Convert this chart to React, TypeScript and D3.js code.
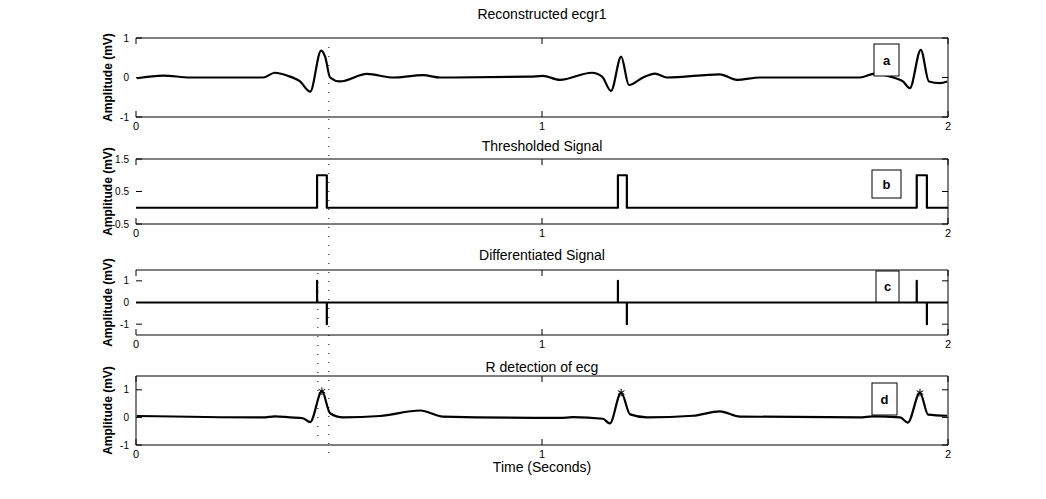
import React from "react";
import * as d3 from "d3";

// reconstructed signal, knots: [time s, mV]
const reconTime = [0.002, 0.067, 0.133, 0.313, 0.342, 0.372, 0.404, 0.429, 0.456, 0.466, 0.478, 0.502, 0.569, 0.633, 0.707, 0.749, 0.97, 1.002, 1.044, 1.123, 1.148, 1.17, 1.195, 1.214, 1.249, 1.278, 1.308, 1.438, 1.48, 1.537, 1.783, 1.82, 1.865, 1.889, 1.906, 1.933, 1.953, 1.98, 1.998];
const reconValue = [-0.02, 0.05, 0.0, 0.0, 0.12, 0.05, -0.1, -0.36, 0.68, 0.52, 0.0, -0.1, 0.09, 0.0, 0.06, 0.0, 0.02, 0.04, -0.06, 0.12, 0.02, -0.34, 0.53, -0.19, 0.0, 0.1, 0.0, 0.08, -0.06, 0.0, 0.0, 0.1, 0.0, -0.1, -0.27, 0.7, -0.1, -0.14, -0.1];

// raw ecg for the R detection panel
const ecgTime = [0.002, 0.313, 0.342, 0.379, 0.411, 0.429, 0.458, 0.478, 0.51, 0.601, 0.7, 0.756, 1.044, 1.076, 1.15, 1.167, 1.195, 1.217, 1.259, 1.372, 1.438, 1.488, 1.783, 1.815, 1.882, 1.901, 1.931, 1.951, 1.998];
const ecgValue = [0.05, 0.0, 0.04, 0.0, -0.03, -0.17, 0.95, 0.15, 0.0, 0.05, 0.25, 0.03, -0.02, 0.01, -0.05, -0.22, 0.9, 0.11, 0.0, 0.06, 0.22, 0.03, 0.0, 0.04, 0.0, -0.19, 0.9, 0.1, 0.06];

// threshold windows (s)
const pulseStart = [0.446, 1.187, 1.923];
const pulseEnd = [0.47, 1.209, 1.948];
const pulseLevel = 1;
const diffLevel = [1, -1];

// detected R peaks
const rTime = [0.458, 1.195, 1.931];
const rValue = [0.95, 0.9, 0.9];

// dotted marker lines (s)
const markTime = [0.475, 0.448];

const xTicks = [0, 1, 2];
const panelTitles = ["Reconstructed ecgr1", "Thresholded Signal", "Differentiated Signal", "R detection of ecg"];
const panelTags = ["a", "b", "c", "d"];
const yDomains = [[-1, 1], [-0.5, 1.5], [-1.5, 1.5], [-1, 1.5]];
const yTicks = [[-1, 0, 1], [-0.5, 0.5, 1.5], [-1, 0, 1], [-1, 0, 1]];

const W = 1046;
const H = 499;
const left = 136;
const right = 948;
const panels = [
  { top: 38, bottom: 117, titleY: 19, tag: [874, 44, 25, 32], leftLine: false },
  { top: 159, bottom: 224, titleY: 151, tag: [872, 170, 29, 28], leftLine: false },
  { top: 270, bottom: 335, titleY: 260, tag: [876, 271, 23, 31], leftLine: false },
  { top: 376, bottom: 445, titleY: 372, tag: [872, 383, 25, 32], leftLine: true },
];
const markSpans = [[47, 457], [273, 437]];

const App = () => {
  const x = d3.scaleLinear().domain([0, 2]).range([left, right]);
  const ys = panels.map((p, i) => d3.scaleLinear().domain(yDomains[i]).range([p.bottom, p.top]));

  const recon = reconTime.map((t, i) => [t, reconValue[i]] as [number, number]);
  const ecg = ecgTime.map((t, i) => [t, ecgValue[i]] as [number, number]);

  const thresh: [number, number][] = [[0, 0]];
  pulseStart.forEach((s, i) => {
    thresh.push([s, 0], [s, pulseLevel], [pulseEnd[i], pulseLevel], [pulseEnd[i], 0]);
  });
  thresh.push([2, 0]);

  const diff: [number, number][] = [[0, 0]];
  pulseStart.forEach((s, i) => {
    diff.push([s, 0], [s, diffLevel[0]], [s, 0], [pulseEnd[i], 0], [pulseEnd[i], diffLevel[1]], [pulseEnd[i], 0]);
  });
  diff.push([2, 0]);

  const lineFor = (i: number, curve: d3.CurveFactory) =>
    d3.line<[number, number]>().x(d => x(d[0])).y(d => ys[i](d[1])).curve(curve);

  const paths = [
    lineFor(0, d3.curveMonotoneX)(recon),
    lineFor(1, d3.curveLinear)(thresh),
    lineFor(2, d3.curveLinear)(diff),
    lineFor(3, d3.curveMonotoneX)(ecg),
  ];

  const star = d3.symbol().type((d3 as any).symbolAsterisk || d3.symbolCross).size(40)();

  return (
    <svg width={W} height={H} style={{ position: "absolute", left: 0, top: 0, background: "#fff" }}
      fontFamily="Arial, 'Liberation Sans', sans-serif">
      <rect width={W} height={H} fill="#fff" />
      {panels.map((p, i) => (
        <g key={i}>
          <text x={(left + right) / 2} y={p.titleY} textAnchor="middle" fontSize={14}>{panelTitles[i]}</text>
          <line x1={left} x2={right} y1={p.top} y2={p.top} stroke="#000" />
          <line x1={left} x2={right} y1={p.bottom} y2={p.bottom} stroke="#000" />
          <line x1={right} x2={right} y1={p.top} y2={p.bottom} stroke="#000" />
          {p.leftLine && <line x1={left} x2={left} y1={p.top} y2={p.bottom} stroke="#000" />}
          <text transform={`translate(112,${(p.top + p.bottom) / 2}) rotate(-90)`} textAnchor="middle"
            fontSize={12} fontWeight="bold">Amplitude (mV)</text>
          {yTicks[i].map(v => (
            <g key={v}>
              <line x1={left} x2={left + 6} y1={ys[i](v)} y2={ys[i](v)} stroke="#000" />
              <line x1={right - 6} x2={right} y1={ys[i](v)} y2={ys[i](v)} stroke="#000" />
              <text x={left - 7} y={ys[i](v)} dy="0.35em" textAnchor="end" fontSize={10}>{String(v)}</text>
            </g>
          ))}
          {xTicks.map(t => (
            <g key={t}>
              <line x1={x(t)} x2={x(t)} y1={p.bottom} y2={p.bottom - 6} stroke="#000" />
              <line x1={x(t)} x2={x(t)} y1={p.top} y2={p.top + 6} stroke="#000" />
              <text x={x(t)} y={p.bottom + 13} textAnchor="middle" fontSize={11}>{t}</text>
            </g>
          ))}
          <path d={paths[i] || ""} fill="none" stroke="#000" strokeWidth={2.2} strokeLinejoin="round" />
          <rect x={p.tag[0]} y={p.tag[1]} width={p.tag[2]} height={p.tag[3]} fill="#fff" stroke="#000" />
          <text x={p.tag[0] + p.tag[2] / 2} y={p.tag[1] + p.tag[3] / 2} dy="0.35em" textAnchor="middle"
            fontSize={13} fontWeight="bold">{panelTags[i]}</text>
        </g>
      ))}
      {rTime.map((t, i) => (
        <path key={t} d={star || ""} transform={`translate(${x(t)},${ys[3](rValue[i])})`} fill="none" stroke="#000" strokeWidth={1} />
      ))}
      {markTime.map((t, i) => (
        <line key={t} x1={x(t)} x2={x(t)} y1={markSpans[i][0]} y2={markSpans[i][1]} stroke="#000" strokeDasharray="1,8" />
      ))}
      <text x={(left + right) / 2} y={472} textAnchor="middle" fontSize={14}>Time (Seconds)</text>
    </svg>
  );
};

export default App;
